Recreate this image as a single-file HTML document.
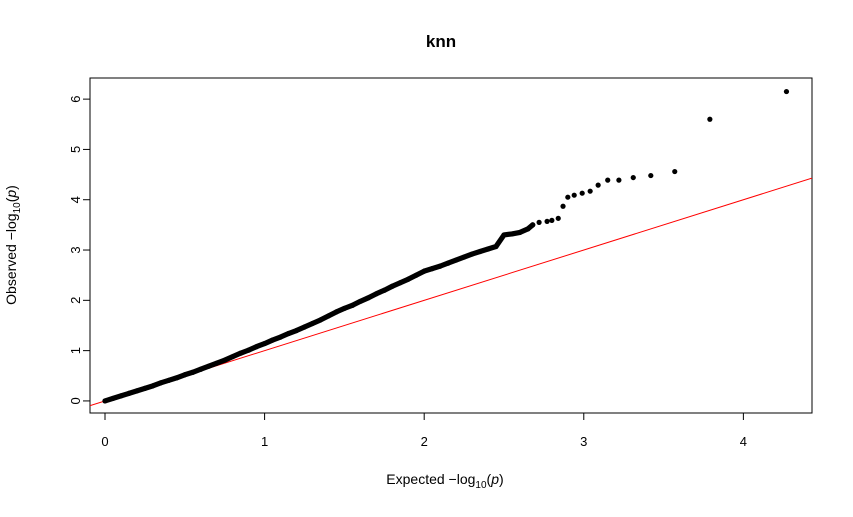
<!DOCTYPE html>
<html><head><meta charset="utf-8"><style>
body{margin:0;background:#fff}
svg text{font-family:"Liberation Sans",sans-serif;fill:#000}
</style></head><body>
<svg id="chart" width="853" height="512" xmlns="http://www.w3.org/2000/svg">
<rect width="853" height="512" fill="#fff"/>
<text x="441" y="47" text-anchor="middle" font-size="17" font-weight="bold">knn</text>
<rect x="90" y="78" width="722" height="335" fill="none" stroke="#000" stroke-width="1"/>
<g id="axes"></g>
<g id="marks"></g>
<text x="445" y="484" text-anchor="middle" font-size="14">Expected −log<tspan font-size="10" dy="4">10</tspan><tspan dy="-4">(</tspan><tspan font-style="italic">p</tspan>)</text>
<text transform="translate(16,245) rotate(-90)" text-anchor="middle" font-size="14">Observed −log<tspan font-size="10" dy="4">10</tspan><tspan dy="-4">(</tspan><tspan font-style="italic">p</tspan>)</text>
</svg>
<script>
const xTicks=[0,1,2,3,4];
const yTicks=[0,1,2,3,4,5,6];
const expected=[0,0.05,0.1,0.15,0.2,0.25,0.3,0.35,0.4,0.45,0.5,0.55,0.6,0.65,0.7,0.75,0.8,0.85,0.9,0.95,1.0,1.05,1.1,1.15,1.2,1.25,1.3,1.35,1.4,1.45,1.5,1.55,1.6,1.65,1.7,1.75,1.8,1.85,1.9,1.95,2.0,2.05,2.1,2.15,2.2,2.25,2.3,2.35,2.4,2.45,2.5,2.55,2.6,2.65,2.68];
const observed=[0,0.05,0.1,0.15,0.2,0.25,0.3,0.36,0.41,0.46,0.52,0.57,0.63,0.69,0.75,0.81,0.88,0.95,1.01,1.08,1.14,1.21,1.27,1.34,1.4,1.47,1.54,1.61,1.69,1.77,1.84,1.9,1.98,2.05,2.13,2.2,2.28,2.35,2.42,2.5,2.58,2.63,2.68,2.74,2.8,2.86,2.92,2.97,3.02,3.07,3.3,3.32,3.35,3.42,3.5];
const tailExpected=[2.72,2.77,2.80,2.84,2.87,2.90,2.94,2.99,3.04,3.09,3.15,3.22,3.31,3.42,3.57,3.79,4.27];
const tailObserved=[3.55,3.57,3.59,3.63,3.87,4.05,4.09,4.13,4.17,4.29,4.39,4.39,4.44,4.48,4.56,5.60,6.15];
const X0=-0.094,X1=4.43,Y0=-0.24,Y1=6.42;
const sx=v=>90+(v-X0)/(X1-X0)*722;
const sy=v=>413-(v-Y0)/(Y1-Y0)*335;
const NS="http://www.w3.org/2000/svg";
const axes=document.getElementById('axes'),marks=document.getElementById('marks');
function mk(tag,attrs,parent){const e=document.createElementNS(NS,tag);for(const k in attrs)e.setAttribute(k,attrs[k]);parent.appendChild(e);return e;}
mk('line',{x1:sx(xTicks[0]),x2:sx(xTicks[xTicks.length-1]),y1:413,y2:413,stroke:'#000'},axes);
xTicks.forEach(t=>{
  const l=mk('line',{x1:sx(t),x2:sx(t),y1:413,y2:420,stroke:'#000'},axes);
  
  
  const tx=mk('text',{x:sx(t),y:446,'text-anchor':'middle','font-size':13},axes);tx.textContent=t;
  
  
});
mk('line',{x1:90,x2:90,y1:sy(yTicks[0]),y2:sy(yTicks[yTicks.length-1]),stroke:'#000'},axes);
yTicks.forEach(t=>{
  const l=mk('line',{x1:83,x2:90,y1:sy(t),y2:sy(t),stroke:'#000'},axes);
  
  
  const tx=mk('text',{transform:`translate(80,${sy(t)}) rotate(-90)`,'text-anchor':'middle','font-size':13},axes);tx.textContent=t;
  
  
});
// reference line y=x, clipped to plot region
const cp=mk('clipPath',{id:'clip'},marks);mk('rect',{x:90,y:78,width:722,height:335},cp);
const rl=mk('line',{x1:sx(X0),y1:sy(X0),x2:sx(X1),y2:sy(X1),stroke:'#ff0000','stroke-width':1,'clip-path':'url(#clip)'},marks);


const pl=mk('polyline',{points:expected.map((e,i)=>sx(e)+','+sy(observed[i])).join(' '),fill:'none',stroke:'#000','stroke-width':5.2,'stroke-linecap':'round','stroke-linejoin':'round'},marks);


expected.forEach((e,i)=>{
  const c=mk('circle',{cx:sx(e),cy:sy(observed[i]),r:2.6,fill:'#000'},marks);
  
  
});
tailExpected.forEach((e,i)=>{
  const c=mk('circle',{cx:sx(e),cy:sy(tailObserved[i]),r:2.6,fill:'#000'},marks);
  
  
});
</script>
</body></html>
